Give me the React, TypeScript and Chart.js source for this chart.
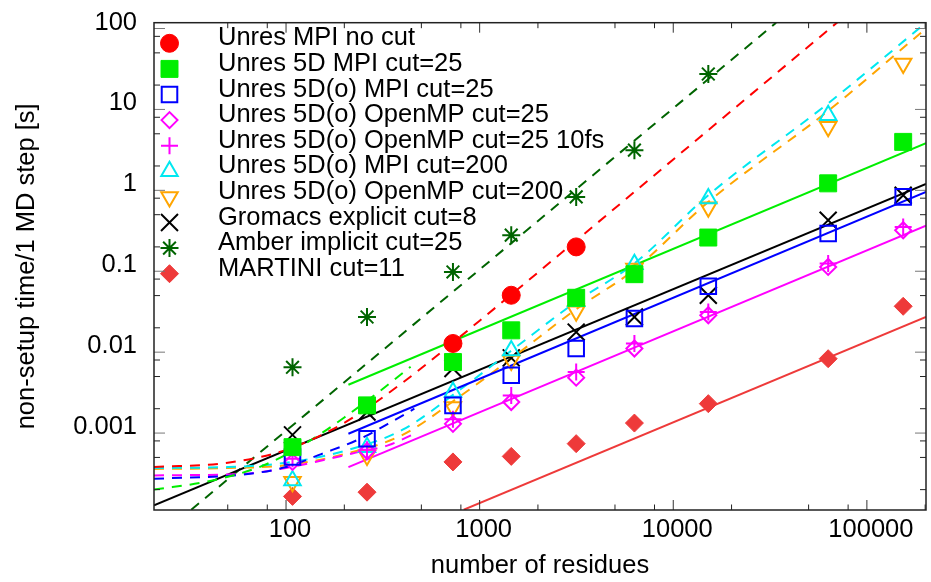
import React, { useEffect, useRef } from 'react';
import { Chart, registerables } from 'chart.js';
import { drawPoint } from 'chart.js/helpers';

Chart.register(...registerables);

// ---- categories: number of residues ----
const residues = [108, 262, 728, 1456, 3152, 6300, 15170, 63100, 154000];

// ---- measured series (seconds per MD step) ----
const unresMpiNoCut = [null, null, 0.0128, 0.0505, 0.2, null, null, null, null];
const unres5dMpi25 = [0.00067, 0.0022, 0.00755, 0.0186, 0.047, 0.092, 0.261, 1.22, 3.97];
const unres5doMpi25 = [0.000505, 0.00085, 0.0022, 0.00518, 0.0111, 0.026, 0.0652, 0.292, 0.83];
const unres5doOmp25 = [0.00044, 0.0006, 0.0013, 0.00242, 0.00484, 0.0111, 0.0286, 0.113, 0.321];
const unres5doOmp25fs10 = [0.00048, 0.00062, 0.00148, 0.00292, 0.00569, 0.0128, 0.0314, 0.1245, 0.353];
const unres5doMpi200 = [0.00026, 0.00067, 0.00321, 0.0105, 0.0425, 0.122, 0.79, 8.5, null];
const unres5doOmp200 = [0.00025, 0.00053, 0.0021, 0.0079, 0.032, 0.108, 0.62, 6.1, 37];
const gromacs8 = [0.00095, 0.00182, 0.00627, 0.0085, 0.0177, 0.0272, 0.0505, 0.428, 0.87];
const amber25 = [0.0065, 0.0272, 0.098, 0.279, 0.83, 3.14, 27.4, null, null];
const martini11 = [0.000165, 0.000186, 0.00044, 0.000515, 0.00074, 0.00133, 0.00231, 0.0083, 0.0369];

// ---- fit curves ----
const fitNoCutX = [20.8, 50, 100, 200, 400, 1000, 3000, 10000, 70000, 100000];
const fitNoCutY = [0.00038, 0.00043, 0.00062, 0.00134, 0.0042, 0.0245, 0.217, 2.41, 118, 241];
const fit5dSmallX = [20.8, 40, 70, 100, 150, 200, 300, 440];
const fit5dSmallY = [0.0002, 0.000254, 0.000367, 0.00054, 0.00097, 0.00156, 0.0032, 0.0066];
const fit5dLargeX = [210, 202000];
const fit5dLargeY = [0.00396, 3.84];
const fitMpi25SmallX = [20.8, 62, 100, 152, 244, 336, 460];
const fitMpi25SmallY = [0.000272, 0.00031, 0.00038, 0.00055, 0.00086, 0.0013, 0.002];
const fitMpi25LargeX = [210, 202000];
const fitMpi25LargeY = [0.00098, 0.955];
const fitOmp25SmallX = [20.8, 62, 100, 141.5, 220, 336, 460];
const fitOmp25SmallY = [0.0003, 0.000315, 0.00037, 0.00044, 0.00056, 0.000705, 0.00098];
const fitOmp25LargeX = [210, 202000];
const fitOmp25LargeY = [0.00038, 0.367];
const fitMpi200X = [20.8, 50, 100, 200, 400, 800, 1500, 3152, 6300, 15170, 63100, 202000];
const fitMpi200Y = [0.00037, 0.00038, 0.00043, 0.0006, 0.0011, 0.0035, 0.011, 0.042, 0.125, 0.87, 11.9, 118];
const fitOmp200X = [20.8, 50, 100, 200, 400, 800, 1500, 3152, 6300, 15170, 63100, 202000];
const fitOmp200Y = [0.00036, 0.00037, 0.0004, 0.00055, 0.00095, 0.0029, 0.0088, 0.034, 0.105, 0.72, 9.6, 100];
const fitGromacsX = [20.8, 202000];
const fitGromacsY = [0.000128, 1.2];
const fitAmberX = [32.4, 33960];
const fitAmberY = [0.000113, 118];
const fitMartiniX = [828, 202000];
const fitMartiniY = [0.000113, 0.0272];

// ---- ticks ----
const xMajorTicks = [100, 1000, 10000, 100000];
const xMinorTicks = [50, 80, 200, 500, 800, 2000, 5000, 8000, 20000, 50000, 80000, 200000];
const yMajorTicks = [0.001, 0.01, 0.1, 1, 10, 100];
const yMinorTicks = [0.0002, 0.0005, 0.0008, 0.002, 0.005, 0.008, 0.02, 0.05, 0.08, 0.2, 0.5, 0.8, 2, 5, 8, 20, 50, 80];

// ---- legend labels ----
const legendLabels = [
  'Unres MPI no cut',
  'Unres 5D MPI cut=25',
  'Unres 5D(o) MPI cut=25',
  'Unres 5D(o) OpenMP cut=25',
  'Unres 5D(o) OpenMP cut=25 10fs',
  'Unres 5D(o) MPI cut=200',
  'Unres 5D(o) OpenMP cut=200',
  'Gromacs explicit cut=8',
  'Amber implicit cut=25',
  'MARTINI cut=11',
];

const seriesValues = [
  unresMpiNoCut, unres5dMpi25, unres5doMpi25, unres5doOmp25, unres5doOmp25fs10,
  unres5doMpi200, unres5doOmp200, gromacs8, amber25, martini11,
];

const RED = '#ff0000';
const GREEN = '#00ee00';
const BLUE = '#0000ff';
const MAGENTA = '#ff00ff';
const CYAN = '#00e8f0';
const ORANGE = '#ffa500';
const BLACK = '#000000';
const DKGREEN = '#006400';
const MRED = '#ee3a3a';

const seriesStyles = [
  { color: RED, pointStyle: 'circle', radius: 9, fill: true, rotation: 0 },
  { color: GREEN, pointStyle: 'rect', radius: 12, fill: true, rotation: 0 },
  { color: BLUE, pointStyle: 'rect', radius: 11, fill: false, rotation: 0 },
  { color: MAGENTA, pointStyle: 'rectRot', radius: 8, fill: false, rotation: 0 },
  { color: MAGENTA, pointStyle: 'cross', radius: 8.5, fill: false, rotation: 0 },
  { color: CYAN, pointStyle: 'triangle', radius: 9.5, fill: false, rotation: 0 },
  { color: ORANGE, pointStyle: 'triangle', radius: 9.5, fill: false, rotation: 180 },
  { color: BLACK, pointStyle: 'crossRot', radius: 12, fill: false, rotation: 0 },
  { color: DKGREEN, pointStyle: 'star', radius: 9, fill: false, rotation: 0 },
  { color: MRED, pointStyle: 'rectRot', radius: 9, fill: true, rotation: 0 },
];

const fitLines = [
  { xs: fitNoCutX, ys: fitNoCutY, color: RED, dash: true, curve: true },
  { xs: fit5dSmallX, ys: fit5dSmallY, color: GREEN, dash: true, curve: true },
  { xs: fit5dLargeX, ys: fit5dLargeY, color: GREEN, dash: false, curve: false },
  { xs: fitMpi25SmallX, ys: fitMpi25SmallY, color: BLUE, dash: true, curve: true },
  { xs: fitMpi25LargeX, ys: fitMpi25LargeY, color: BLUE, dash: false, curve: false },
  { xs: fitOmp25SmallX, ys: fitOmp25SmallY, color: MAGENTA, dash: true, curve: true },
  { xs: fitOmp25LargeX, ys: fitOmp25LargeY, color: MAGENTA, dash: false, curve: false },
  { xs: fitMpi200X, ys: fitMpi200Y, color: CYAN, dash: true, curve: true },
  { xs: fitOmp200X, ys: fitOmp200Y, color: ORANGE, dash: true, curve: true },
  { xs: fitGromacsX, ys: fitGromacsY, color: BLACK, dash: false, curve: false },
  { xs: fitAmberX, ys: fitAmberY, color: DKGREEN, dash: true, curve: false },
  { xs: fitMartiniX, ys: fitMartiniY, color: MRED, dash: false, curve: false },
];

const FONT_FAMILY = '"Liberation Sans", Arial, Helvetica, sans-serif';
const FONT_SIZE = 25.5;

const framePlugin = {
  id: 'frameTicksLegend',
  afterDatasetsDraw(chart: any) {
    const { ctx, chartArea: a, scales } = chart;
    const xs = scales.x;
    const ys = scales.y;
    ctx.save();
    // legend
    const markerX = 169.5;
    const textX = 218;
    const rowY0 = 43.3;
    const rowStep = 25.6;
    ctx.font = `${FONT_SIZE}px ${FONT_FAMILY}`;
    ctx.textBaseline = 'middle';
    ctx.textAlign = 'left';
    legendLabels.forEach((label, i) => {
      const st = seriesStyles[i];
      const y = rowY0 + i * rowStep;
      ctx.save();
      ctx.fillStyle = st.fill ? st.color : 'rgba(0,0,0,0)';
      ctx.strokeStyle = st.color;
      ctx.lineWidth = st.fill ? 1 : 2;
      drawPoint(ctx, { pointStyle: st.pointStyle, radius: st.radius, rotation: st.rotation, borderWidth: ctx.lineWidth } as any, markerX, y);
      ctx.restore();
      ctx.fillStyle = '#000';
      ctx.fillText(label, textX, y - 5);
    });

    // ticks
    const majorLen = 10;
    const minorLen = 5.5;
    ctx.lineWidth = 1;
    const tickX = (v: number, len: number, color: string) => {
      const p = xs.getPixelForValue(v);
      if (p < a.left || p > a.right) return;
      ctx.strokeStyle = color;
      ctx.beginPath();
      ctx.moveTo(p, a.bottom);
      ctx.lineTo(p, a.bottom - len);
      ctx.moveTo(p, a.top);
      ctx.lineTo(p, a.top + len);
      ctx.stroke();
    };
    const tickY = (v: number, len: number, color: string) => {
      const p = ys.getPixelForValue(v);
      if (p < a.top || p > a.bottom) return;
      ctx.strokeStyle = color;
      ctx.beginPath();
      ctx.moveTo(a.left, p);
      ctx.lineTo(a.left + len, p);
      ctx.moveTo(a.right, p);
      ctx.lineTo(a.right - len, p);
      ctx.stroke();
    };
    xMajorTicks.forEach((v) => tickX(v, majorLen, '#333'));
    xMinorTicks.forEach((v) => tickX(v, minorLen, '#222'));
    yMajorTicks.forEach((v) => tickY(v, majorLen + 1, '#777'));
    yMinorTicks.forEach((v) => tickY(v, minorLen + 0.5, '#222'));

    // frame
    ctx.strokeStyle = '#222';
    ctx.lineWidth = 1.5;
    ctx.strokeRect(a.left, a.top, a.right - a.left, a.bottom - a.top);
    ctx.restore();
  },
};

export default function App() {
  const canvasRef = useRef<HTMLCanvasElement | null>(null);

  useEffect(() => {
    const canvas = canvasRef.current;
    if (!canvas) return;

    const markerSets = seriesValues.map((vals, i) => {
      const st = seriesStyles[i];
      const data = residues
        .map((x, j) => ({ x, y: vals[j] }))
        .filter((p) => p.y !== null && p.y !== undefined);
      return {
        label: legendLabels[i],
        data,
        showLine: false,
        pointStyle: st.pointStyle,
        pointRadius: st.radius,
        pointRotation: st.rotation,
        pointBackgroundColor: st.fill ? st.color : 'rgba(0,0,0,0)',
        pointBorderColor: st.color,
        pointBorderWidth: st.fill ? 1 : 2,
        pointHoverRadius: st.radius,
      };
    });

    const lineSets = fitLines.map((f) => ({
      label: '',
      data: f.xs.map((x, j) => ({ x, y: f.ys[j] })),
      showLine: true,
      pointRadius: 0,
      pointHoverRadius: 0,
      borderColor: f.color,
      backgroundColor: f.color,
      borderWidth: 2,
      borderDash: f.dash ? [10, 8] : [],
      cubicInterpolationMode: f.curve ? 'monotone' : 'default',
      fill: false,
    }));

    const tickFont = { family: FONT_FAMILY, size: FONT_SIZE, lineHeight: 1 };

    const chart = new Chart(canvas, {
      type: 'scatter',
      data: { datasets: [...markerSets, ...lineSets] as any },
      options: {
        animation: false,
        responsive: false,
        maintainAspectRatio: false,
        devicePixelRatio: 1,
        events: [],
        layout: { padding: { top: 22.7, right: 7, bottom: 0, left: 0 } },
        plugins: { legend: { display: false }, tooltip: { enabled: false } },
        scales: {
          x: {
            type: 'logarithmic',
            position: 'bottom',
            min: 20.8,
            max: 202000,
            afterBuildTicks: (axis: any) => {
              axis.ticks = xMajorTicks.map((v) => ({ value: v }));
            },
            afterFit: (axis: any) => {
              axis.height = 72;
              axis.paddingLeft = 0;
              axis.paddingRight = 0;
            },
            grid: { display: false, drawTicks: false },
            border: { display: false },
            ticks: {
              callback: (v: any) => String(v),
              font: tickFont,
              color: '#000',
              padding: 7.5,
              labelOffset: 4,
              autoSkip: false,
              maxRotation: 0,
              minRotation: 0,
            },
            title: {
              display: true,
              text: 'number of residues',
              font: tickFont,
              color: '#000',
              padding: { top: 0, bottom: 3 },
            },
          },
          y: {
            type: 'logarithmic',
            position: 'left',
            min: 0.000112,
            max: 118,
            afterBuildTicks: (axis: any) => {
              axis.ticks = yMajorTicks.map((v) => ({ value: v }));
            },
            afterFit: (axis: any) => {
              axis.width = 154;
              axis.paddingTop = 0;
              axis.paddingBottom = 0;
            },
            grid: { display: false, drawTicks: false },
            border: { display: false },
            ticks: {
              callback: (v: any) => String(v),
              font: tickFont,
              color: '#000',
              padding: 17,
              labelOffset: -6,
              autoSkip: false,
            },
            title: {
              display: true,
              text: 'non-setup time/1 MD step [s]',
              font: tickFont,
              color: '#000',
              padding: { top: 14, bottom: 0 },
            },
          },
        },
      } as any,
      plugins: [framePlugin],
    });

    return () => {
      chart.destroy();
    };
  }, []);

  return (
    <div
      style={{
        position: 'fixed',
        left: 0,
        top: 0,
        width: 931,
        height: 582,
        overflow: 'hidden',
        background: '#ffffff',
      }}
    >
      <canvas
        ref={canvasRef}
        width={940}
        height={582}
        style={{ display: 'block', width: 940, height: 582 }}
      />
    </div>
  );
}
